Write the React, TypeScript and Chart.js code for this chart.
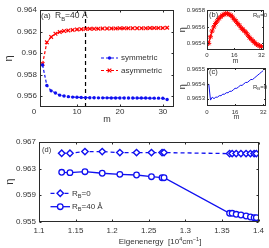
import React, { useEffect, useRef } from 'react';
import { Chart, registerables } from 'chart.js';
import { drawPoint } from 'chart.js/helpers';

Chart.register(...registerables);

const FONT = "'Liberation Sans', Arial, sans-serif";
const TXT = '#333333';
const BOX = '#2a2a2a';
const BLUE = '#1010f0';
const RED = '#ff0000';

// ---------- panel (a): R_B = 40 Å ----------
const mA = [2, 3, 4, 5, 6, 7, 8, 9, 10, 11, 12, 13, 14, 15, 16, 17, 18, 19, 20, 21, 22, 23, 24, 25, 26, 27, 28, 29, 30, 31];
const symA = [0.9589, 0.957, 0.9565, 0.9563, 0.9561, 0.95602, 0.95596, 0.95592, 0.9559, 0.95588, 0.95587, 0.95586, 0.95586, 0.95585, 0.95585, 0.95585, 0.95584, 0.95584, 0.95584, 0.95584, 0.95583, 0.95583, 0.95583, 0.95583, 0.95583, 0.95582, 0.95582, 0.95582, 0.95581, 0.9557];
const asymA = [0.959, 0.961, 0.9615, 0.9618, 0.96195, 0.96205, 0.9621, 0.96215, 0.9622, 0.96222, 0.96224, 0.96225, 0.96226, 0.96227, 0.96228, 0.96228, 0.96229, 0.96229, 0.9623, 0.9623, 0.9623, 0.96231, 0.96231, 0.96231, 0.96231, 0.96232, 0.96232, 0.96232, 0.96232, 0.96236];
const markerMA = 12;
const xTicksA = [0, 10, 20, 30];
const yTicksA = [0.956, 0.958, 0.96, 0.962, 0.964];

// ---------- panel (b): R_B = 0 ----------
const mBC = [1, 2, 3, 4, 5, 6, 7, 8, 9, 10, 11, 12, 13, 14, 15, 16, 17, 18, 19, 20, 21, 22, 23, 24, 25, 26, 27, 28, 29, 30, 31, 32];
const etaB = [0.9654, 0.96548, 0.96555, 0.9656, 0.96564, 0.96567, 0.9657, 0.96572, 0.96574, 0.96575, 0.96576, 0.96576, 0.96575, 0.96574, 0.96572, 0.96569, 0.96567, 0.96564, 0.96562, 0.96559, 0.96557, 0.96555, 0.96553, 0.9655, 0.96547, 0.96545, 0.96543, 0.96541, 0.96539, 0.96538, 0.96537, 0.96536];
const xTicksBC = [0, 16, 32];
const yTicksB = [0.9654, 0.9656, 0.9658];

// ---------- panel (c): R_B = 0 ----------
const etaC = [0.9654, 0.96529, 0.96531, 0.9653, 0.96531, 0.96531, 0.96532, 0.96532, 0.96533, 0.96533, 0.96534, 0.96534, 0.96535, 0.96535, 0.96536, 0.96537, 0.96537, 0.96538, 0.96539, 0.96539, 0.9654, 0.96541, 0.96541, 0.96542, 0.96543, 0.96543, 0.96544, 0.96545, 0.96546, 0.96547, 0.96548, 0.96549];
const yTicksC = [0.9653, 0.9654, 0.9655];

// ---------- panel (d): eta vs eigenenergy ----------
const energyD = [1.131, 1.1423, 1.1628, 1.1864, 1.2105, 1.2333, 1.2537, 1.2682, 1.2709, 1.3605, 1.364, 1.3695, 1.376, 1.383, 1.389, 1.394, 1.397];
const etaD0 = [0.9653, 0.9653, 0.96555, 0.96555, 0.9654, 0.9654, 0.9654, 0.9654, 0.9654, 0.96525, 0.96525, 0.96525, 0.96525, 0.96525, 0.96525, 0.96525, 0.96525];
const etaD40 = [0.96243, 0.96237, 0.96252, 0.96228, 0.96212, 0.96202, 0.96176, 0.96161, 0.96161, 0.95624, 0.95624, 0.95609, 0.95598, 0.95583, 0.95568, 0.95557, 0.95557];
const xTicksD = [1.1, 1.15, 1.2, 1.25, 1.3, 1.35, 1.4];
const yTicksD = [0.955, 0.959, 0.963, 0.967];

// ---------- helpers ----------
const fmt = (v: number) => String(parseFloat(Number(v).toFixed(5)));
const pts = (xs: number[], ys: number[]) => xs.map((x, i) => ({ x, y: ys[i] }));

type Part = { t: string; s: number; dy?: number };
type Note =
  | { kind: 'rich'; x: number; y: number; parts: Part[]; align?: 'left' | 'center' }
  | { kind: 'key'; x1: number; x2: number; y: number; color: string; dash: number[]; width: number; style: string; radius: number; fill: string; bw: number };

function drawRich(ctx: CanvasRenderingContext2D, parts: Part[], x: number, y: number, align: 'left' | 'center') {
  ctx.save();
  ctx.fillStyle = TXT;
  ctx.textBaseline = 'middle';
  ctx.textAlign = 'left';
  const widths = parts.map((p) => {
    ctx.font = `${p.s}px ${FONT}`;
    return ctx.measureText(p.t).width;
  });
  const total = widths.reduce((a, b) => a + b, 0);
  let cx = align === 'center' ? x - total / 2 : x;
  parts.forEach((p, i) => {
    ctx.font = `${p.s}px ${FONT}`;
    ctx.fillText(p.t, cx, y + (p.dy || 0));
    cx += widths[i];
  });
  ctx.restore();
}

function decor(notes: Note[], tickLen: number) {
  return {
    id: 'decor',
    afterDraw(chart: any) {
      const ctx: CanvasRenderingContext2D = chart.ctx;
      const a = chart.chartArea;
      const l = Math.round(a.left) + 0.5;
      const t = Math.round(a.top) + 0.5;
      const r = Math.round(a.right) - 0.5;
      const b = Math.round(a.bottom) - 0.5;
      ctx.save();
      ctx.strokeStyle = BOX;
      ctx.lineWidth = 1;
      ctx.setLineDash([]);
      ctx.strokeRect(l, t, r - l, b - t);
      const xs = chart.scales.x;
      const ys = chart.scales.y;
      ctx.beginPath();
      for (const tk of xs.ticks) {
        if (tk.value < xs.min || tk.value > xs.max) continue;
        const px = Math.round(xs.getPixelForValue(tk.value)) + 0.5;
        ctx.moveTo(px, b); ctx.lineTo(px, b - tickLen);
        ctx.moveTo(px, t); ctx.lineTo(px, t + tickLen);
      }
      for (const tk of ys.ticks) {
        if (tk.value < ys.min || tk.value > ys.max) continue;
        const py = Math.round(ys.getPixelForValue(tk.value)) + 0.5;
        ctx.moveTo(l, py); ctx.lineTo(l + tickLen, py);
        ctx.moveTo(r, py); ctx.lineTo(r - tickLen, py);
      }
      ctx.stroke();
      ctx.restore();
      for (const n of notes) {
        if (n.kind === 'rich') {
          drawRich(ctx, n.parts, n.x, n.y, n.align || 'left');
        } else {
          ctx.save();
          ctx.strokeStyle = n.color;
          ctx.lineWidth = n.width;
          ctx.setLineDash(n.dash);
          ctx.beginPath();
          ctx.moveTo(n.x1, n.y);
          ctx.lineTo(n.x2, n.y);
          ctx.stroke();
          ctx.setLineDash([]);
          ctx.fillStyle = n.fill;
          ctx.lineWidth = n.bw;
          drawPoint(ctx, { pointStyle: n.style as any, radius: n.radius, rotation: 0, borderWidth: n.bw }, (n.x1 + n.x2) / 2, n.y);
          ctx.restore();
        }
      }
    },
  };
}

function xAxis(o: { min: number; max: number; ticks: number[]; font: number; height: number; pad: number; title?: string; titleFont?: number; titlePad?: number }) {
  return {
    type: 'linear',
    position: 'bottom',
    min: o.min,
    max: o.max,
    afterBuildTicks: (s: any) => { s.ticks = o.ticks.map((v) => ({ value: v })); },
    afterFit: (s: any) => { s.height = o.height; },
    grid: { display: false, drawTicks: false },
    border: { display: false },
    ticks: { autoSkip: false, maxRotation: 0, minRotation: 0, padding: o.pad, color: TXT, font: { family: FONT, size: o.font }, callback: (v: any) => fmt(v) },
    title: o.title
      ? { display: true, text: o.title, color: TXT, font: { family: FONT, size: o.titleFont }, padding: { top: 0, bottom: o.titlePad || 0 } }
      : { display: false },
  };
}

function yAxis(o: { min: number; max: number; ticks: number[]; font: number; width: number; pad: number; titleFont: number; titlePad: number }) {
  return {
    type: 'linear',
    position: 'left',
    min: o.min,
    max: o.max,
    afterBuildTicks: (s: any) => { s.ticks = o.ticks.map((v) => ({ value: v })); },
    afterFit: (s: any) => { s.width = o.width; },
    grid: { display: false, drawTicks: false },
    border: { display: false },
    ticks: { autoSkip: false, padding: o.pad, color: TXT, font: { family: FONT, size: o.font }, callback: (v: any) => fmt(v) },
    title: { display: true, text: 'η', color: TXT, font: { family: FONT, size: o.titleFont }, padding: { top: o.titlePad, bottom: 0 } },
  };
}

function baseOptions(padding: any, x: any, y: any) {
  return {
    animation: false,
    responsive: false,
    maintainAspectRatio: false,
    events: [],
    layout: { padding },
    plugins: { legend: { display: false }, tooltip: { enabled: false } },
    scales: { x, y },
  };
}

const rb = (rest: string, s: number): Part[] => [
  { t: 'R', s },
  { t: 'B', s: s * 0.7, dy: s * 0.35 },
  { t: rest, s },
];

// ---------- chart configs ----------
function configA(): any {
  return {
    type: 'line',
    data: {
      datasets: [
        { data: pts(mA, symA), borderColor: BLUE, borderWidth: 1.2, borderDash: [3, 2], pointStyle: 'circle', pointRadius: 1.7, pointBackgroundColor: BLUE, pointBorderWidth: 0 },
        { data: pts(mA, asymA), borderColor: RED, borderWidth: 1.2, borderDash: [3, 2], pointStyle: 'crossRot', pointRadius: 2.6, pointBorderColor: RED, pointBorderWidth: 1.2 },
        { data: [{ x: markerMA, y: 0.955 }, { x: markerMA, y: 0.964 }], borderColor: '#000', borderWidth: 1.2, borderDash: [4, 3], pointRadius: 0 },
      ],
    },
    options: baseOptions(
      { left: 0, top: 10, right: 6, bottom: 0 },
      xAxis({ min: 1.4, max: 32.6, ticks: xTicksA, font: 8, height: 18, pad: 0, title: 'm', titleFont: 9, titlePad: 0 }),
      yAxis({ min: 0.955, max: 0.964, ticks: yTicksA, font: 8, width: 40, pad: 3, titleFont: 11, titlePad: 2 })
    ),
    plugins: [
      decor(
        [
          { kind: 'rich', x: 41, y: 16, parts: [{ t: '(a)', s: 8 }] },
          { kind: 'rich', x: 55, y: 16, parts: rb('=40 Å', 8.5) },
          { kind: 'key', x1: 101, x2: 118, y: 58, color: BLUE, dash: [3, 2], width: 1.2, style: 'circle', radius: 1.7, fill: BLUE, bw: 0 },
          { kind: 'rich', x: 121, y: 58, parts: [{ t: 'symmetric', s: 8 }] },
          { kind: 'key', x1: 101, x2: 118, y: 70.5, color: RED, dash: [3, 2], width: 1.2, style: 'crossRot', radius: 2.6, fill: RED, bw: 1.2 },
          { kind: 'rich', x: 121, y: 70.5, parts: [{ t: 'asymmetric', s: 8 }] },
        ],
        2
      ),
    ],
  };
}

function configB(): any {
  return {
    type: 'line',
    data: {
      datasets: [
        { data: pts(mBC, etaB), borderColor: RED, borderWidth: 1.3, pointStyle: 'star', pointRadius: 2.6, pointBorderColor: RED, pointBorderWidth: 1 },
      ],
    },
    options: baseOptions(
      { left: 0, top: 9.5, right: 3, bottom: 0 },
      xAxis({ min: 0, max: 33.5, ticks: xTicksBC, font: 6, height: 15, pad: 1.7, title: 'm', titleFont: 7, titlePad: 0 }),
      yAxis({ min: 0.96532, max: 0.96581, ticks: yTicksB, font: 6, width: 31, pad: 2, titleFont: 9, titlePad: 1 })
    ),
    plugins: [
      decor(
        [
          { kind: 'rich', x: 33, y: 15, parts: [{ t: '(b)', s: 7.5 }] },
          { kind: 'rich', x: 77, y: 15, parts: rb('=0', 6) },
        ],
        1.5
      ),
    ],
  };
}

function configC(): any {
  return {
    type: 'line',
    data: {
      datasets: [
        { data: pts(mBC, etaC), borderColor: BLUE, borderWidth: 1, pointRadius: 0 },
      ],
    },
    options: baseOptions(
      { left: 0, top: 5.7, right: 3, bottom: 0 },
      xAxis({ min: 0, max: 33.5, ticks: xTicksBC, font: 6, height: 19, pad: 2.4, title: 'm', titleFont: 7, titlePad: 3.3 }),
      yAxis({ min: 0.96525, max: 0.96551, ticks: yTicksC, font: 6, width: 31, pad: 2, titleFont: 9, titlePad: 1 })
    ),
    plugins: [
      decor(
        [
          { kind: 'rich', x: 33, y: 9.5, parts: [{ t: '(c)', s: 7.5 }] },
          { kind: 'rich', x: 77, y: 25, parts: rb('=0', 6) },
        ],
        1.5
      ),
    ],
  };
}

function configD(): any {
  return {
    type: 'line',
    data: {
      datasets: [
        { data: pts(energyD, etaD0), borderColor: BLUE, borderWidth: 1.3, borderDash: [4, 3], pointStyle: 'rectRot', pointRadius: 3.2, pointBackgroundColor: '#ffffff', pointBorderColor: BLUE, pointBorderWidth: 1.4 },
        { data: pts(energyD, etaD40), borderColor: BLUE, borderWidth: 1.3, pointStyle: 'circle', pointRadius: 2.8, pointBackgroundColor: '#ffffff', pointBorderColor: BLUE, pointBorderWidth: 1.3 },
      ],
    },
    options: baseOptions(
      { left: 0, top: 17, right: 10.5, bottom: 0 },
      xAxis({ min: 1.1, max: 1.4, ticks: xTicksD, font: 8, height: 26.5, pad: 4.5 }),
      yAxis({ min: 0.955, max: 0.967, ticks: yTicksD, font: 8, width: 39, pad: 3, titleFont: 11, titlePad: 3.4 })
    ),
    plugins: [
      decor(
        [
          { kind: 'rich', x: 42, y: 25, parts: [{ t: '(d)', s: 7.5 }] },
          { kind: 'key', x1: 50.5, x2: 70, y: 68.3, color: BLUE, dash: [4, 3], width: 1.3, style: 'rectRot', radius: 3.2, fill: '#ffffff', bw: 1.4 },
          { kind: 'rich', x: 72, y: 68.3, parts: rb('=0', 8) },
          { kind: 'key', x1: 50.5, x2: 70, y: 81.7, color: BLUE, dash: [], width: 1.3, style: 'circle', radius: 2.8, fill: '#ffffff', bw: 1.3 },
          { kind: 'rich', x: 72, y: 81.7, parts: rb('=40 Å', 8) },
          {
            kind: 'rich', x: 160, y: 117, align: 'center',
            parts: [
              { t: 'Eigenenergy  [10', s: 8 },
              { t: '4', s: 5.5, dy: -3 },
              { t: 'cm', s: 8 },
              { t: '−1', s: 5.5, dy: -3 },
              { t: ']', s: 8 },
            ],
          },
        ],
        2
      ),
    ],
  };
}

function Panel({ left, top, width, height, make }: { left: number; top: number; width: number; height: number; make: () => any }) {
  const ref = useRef<HTMLCanvasElement>(null);
  useEffect(() => {
    const chart = new Chart(ref.current as HTMLCanvasElement, make());
    return () => chart.destroy();
  }, []);
  return (
    <canvas
      ref={ref}
      width={width}
      height={height}
      style={{ position: 'absolute', left, top, width, height }}
    />
  );
}

export default function App() {
  return (
    <div style={{ position: 'absolute', left: 0, top: 0, width: 269, height: 248, background: '#ffffff', overflow: 'hidden' }}>
      <Panel left={0} top={0} width={180} height={125} make={configA} />
      <Panel left={176} top={0} width={93} height={65} make={configB} />
      <Panel left={176} top={62} width={93} height={63} make={configC} />
      <Panel left={0} top={125} width={269} height={123} make={configD} />
    </div>
  );
}
